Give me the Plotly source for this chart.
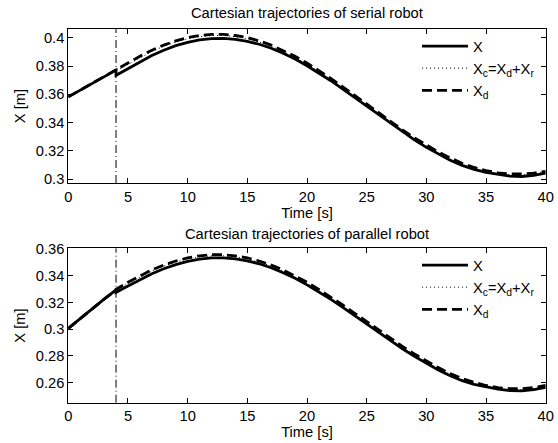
import plotly.graph_objects as go

# ---- data ----
time_s = [0, 1, 2, 3, 4, 4, 5, 6, 7, 8, 9, 10, 11, 12, 13, 14, 15, 16, 17, 18, 19, 20,
          21, 22, 23, 24, 25, 26, 27, 28, 29, 30, 31, 32, 33, 34, 35, 36, 37, 38, 39, 40]
switch_time = 4

serial_X = [0.3582, 0.3630, 0.3677, 0.3724, 0.3771, 0.3734, 0.3782, 0.3831, 0.3875, 0.3912,
            0.3944, 0.3968, 0.3985, 0.3994, 0.3996, 0.3989, 0.3975, 0.3954, 0.3926, 0.3890,
            0.3849, 0.3802, 0.3751, 0.3696, 0.3637, 0.3577, 0.3515, 0.3454, 0.3393, 0.3334,
            0.3277, 0.3224, 0.3176, 0.3133, 0.3097, 0.3068, 0.3047, 0.3031, 0.3020, 0.3018,
            0.3026, 0.3042]
serial_Xc = [0.3582, 0.3630, 0.3677, 0.3724, 0.3771, 0.3765, 0.3813, 0.3861, 0.3903, 0.3940,
             0.3970, 0.3993, 0.4008, 0.4016, 0.4016, 0.4008, 0.3993, 0.3970, 0.3940, 0.3903,
             0.3861, 0.3813, 0.3760, 0.3704, 0.3645, 0.3584, 0.3522, 0.3460, 0.3399, 0.3340,
             0.3284, 0.3231, 0.3183, 0.3141, 0.3105, 0.3075, 0.3053, 0.3038, 0.3030, 0.3030,
             0.3037, 0.3050]
serial_Xd = [0.3582, 0.3630, 0.3677, 0.3724, 0.3771, 0.3771, 0.3821, 0.3869, 0.3911, 0.3948,
             0.3978, 0.4001, 0.4016, 0.4024, 0.4024, 0.4016, 0.4001, 0.3978, 0.3948, 0.3911,
             0.3869, 0.3821, 0.3768, 0.3712, 0.3653, 0.3592, 0.3530, 0.3468, 0.3407, 0.3348,
             0.3292, 0.3239, 0.3191, 0.3149, 0.3112, 0.3082, 0.3059, 0.3044, 0.3036, 0.3036,
             0.3042, 0.3055]

parallel_X = [0.3007, 0.3081, 0.3155, 0.3226, 0.3295, 0.3277, 0.3324, 0.3373, 0.3416, 0.3454,
              0.3485, 0.3509, 0.3526, 0.3535, 0.3535, 0.3528, 0.3513, 0.3491, 0.3461, 0.3424,
              0.3382, 0.3333, 0.3280, 0.3224, 0.3164, 0.3102, 0.3039, 0.2976, 0.2914, 0.2854,
              0.2797, 0.2744, 0.2695, 0.2652, 0.2615, 0.2588, 0.2568, 0.2551, 0.2540, 0.2538,
              0.2548, 0.2564]
parallel_Xc = [0.3007, 0.3081, 0.3155, 0.3226, 0.3295, 0.3291, 0.3345, 0.3393, 0.3437, 0.3474,
               0.3504, 0.3527, 0.3543, 0.3551, 0.3551, 0.3543, 0.3527, 0.3504, 0.3474, 0.3437,
               0.3393, 0.3345, 0.3291, 0.3234, 0.3174, 0.3112, 0.3049, 0.2986, 0.2924, 0.2864,
               0.2807, 0.2753, 0.2705, 0.2661, 0.2624, 0.2594, 0.2571, 0.2555, 0.2547, 0.2547,
               0.2555, 0.2571]
parallel_Xd = [0.3007, 0.3081, 0.3155, 0.3226, 0.3295, 0.3299, 0.3353, 0.3401, 0.3445, 0.3482,
               0.3512, 0.3535, 0.3551, 0.3559, 0.3559, 0.3551, 0.3535, 0.3512, 0.3482, 0.3445,
               0.3401, 0.3353, 0.3299, 0.3242, 0.3182, 0.3120, 0.3057, 0.2994, 0.2932, 0.2872,
               0.2815, 0.2761, 0.2713, 0.2669, 0.2632, 0.2602, 0.2579, 0.2563, 0.2555, 0.2555,
               0.2563, 0.2579]

x_ticks = [0, 5, 10, 15, 20, 25, 30, 35, 40]
serial_yticks = [0.3, 0.32, 0.34, 0.36, 0.38, 0.4]
serial_yticklabels = ["0.3", "0.32", "0.34", "0.36", "0.38", "0.4"]
parallel_yticks = [0.26, 0.28, 0.3, 0.32, 0.34, 0.36]
parallel_yticklabels = ["0.26", "0.28", "0.3", "0.32", "0.34", "0.36"]

titles = ["Cartesian trajectories of serial robot", "Cartesian trajectories of parallel robot"]
names = ["X", "X<sub>c</sub>=X<sub>d</sub>+X<sub>r</sub>", "X<sub>d</sub>"]

FONT = "Liberation Sans, Arial, sans-serif"
FS = 14.7
W, H = 558, 443

fig = go.Figure()

def add_set(xa, ya, leg, ys):
    styles = [dict(width=2.8, dash="solid"),
              dict(width=1, dash="1px,3px"),
              dict(width=2.8, dash="10px,5px")]
    for nm, y, st in zip(names, ys, styles):
        fig.add_trace(go.Scatter(x=time_s, y=y, mode="lines", name=nm,
                                 line=dict(color="black", **st),
                                 xaxis=xa, yaxis=ya, legend=leg, hoverinfo="skip"))

add_set("x", "y", "legend", [serial_X, serial_Xc, serial_Xd])
add_set("x2", "y2", "legend2", [parallel_X, parallel_Xc, parallel_Xd])

x_dom = [68.3 / W, 545.7 / W]
top_dom = [1 - 183 / H, 1 - 29 / H]
bot_dom = [1 - 402.7 / H, 1 - 248.3 / H]

axis_common = dict(showline=True, linecolor="black", linewidth=1, mirror="ticks",
                   ticks="inside", ticklen=5, tickcolor="black", showgrid=False,
                   zeroline=False, tickfont=dict(family=FONT, size=FS, color="black"))

fig.update_layout(
    width=W, height=H, margin=dict(l=0, r=0, t=0, b=0, autoexpand=False),
    paper_bgcolor="white", plot_bgcolor="white",
    font=dict(family=FONT, size=FS, color="black"),
    xaxis=dict(domain=x_dom, range=[0, 40], tickvals=x_ticks, anchor="y",
               title=dict(text="Time [s]", standoff=0, font=dict(size=FS)), **axis_common),
    yaxis=dict(domain=top_dom, range=[0.2972, 0.4062], tickvals=serial_yticks,
               ticktext=serial_yticklabels, anchor="x",
               title=dict(text="X [m]", standoff=6, font=dict(size=FS)), **axis_common),
    xaxis2=dict(domain=x_dom, range=[0, 40], tickvals=x_ticks, anchor="y2",
                title=dict(text="Time [s]", standoff=0, font=dict(size=FS)), **axis_common),
    yaxis2=dict(domain=bot_dom, range=[0.245, 0.3607], tickvals=parallel_yticks,
                ticktext=parallel_yticklabels, anchor="x2",
                title=dict(text="X [m]", standoff=6, font=dict(size=FS)), **axis_common),
    legend=dict(x=417 / W, y=1 - 30 / H, xanchor="left", yanchor="top", itemwidth=46,
                bgcolor="rgba(255,255,255,0)", font=dict(size=FS), tracegroupgap=0),
    legend2=dict(x=417 / W, y=1 - 249 / H, xanchor="left", yanchor="top", itemwidth=46,
                 bgcolor="rgba(255,255,255,0)", font=dict(size=FS), tracegroupgap=0),
    showlegend=True,
    hovermode=False,
)

for t, yc in zip(titles, [13, 234]):
    fig.add_annotation(text=t, x=(x_dom[0] + x_dom[1]) / 2, y=1 - yc / H,
                       xref="paper", yref="paper", showarrow=False,
                       xanchor="center", yanchor="middle",
                       font=dict(family=FONT, size=FS, color="black"))

for xr, yr in [("x", "y domain"), ("x2", "y2 domain")]:
    fig.add_shape(type="line", xref=xr, yref=yr, x0=switch_time, x1=switch_time,
                  y0=0, y1=1, line=dict(color="black", width=1, dash="8px,3px,1px,3px"))

fig.write_html("out.html", config={"displayModeBar": False},
               post_script="document.body.style.margin='0';document.body.style.overflow='hidden';")
